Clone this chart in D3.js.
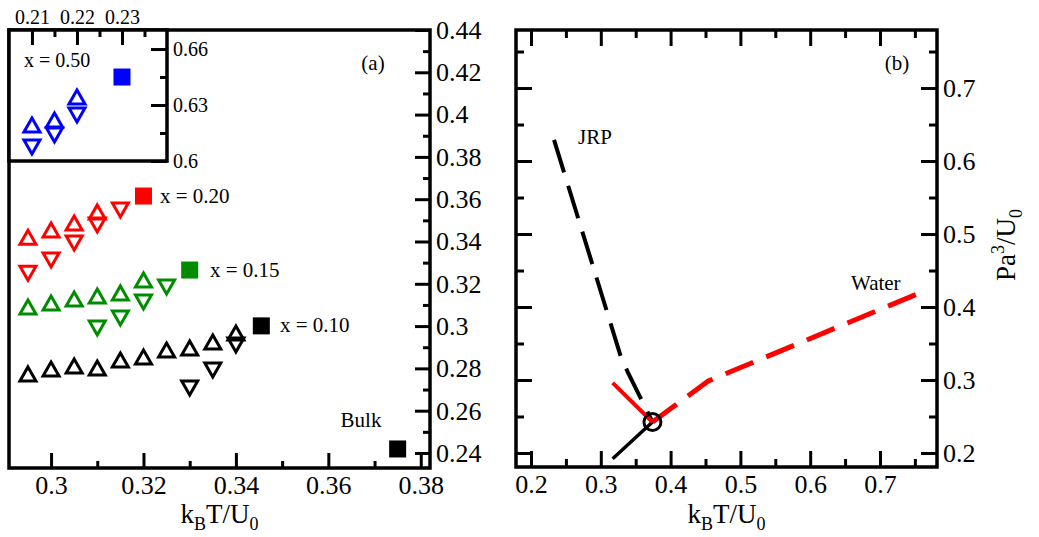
<!DOCTYPE html>
<html>
<head>
<meta charset="utf-8">
<script src="https://cdn.jsdelivr.net/npm/d3@7"></script>
<style>
  body { margin: 0; background: #fff; }
  svg text { font-family: "Liberation Serif", "Times New Roman", Times, "DejaVu Serif", serif !important; fill: #000; }
</style>
</head>
<body>
<svg id="chart" width="1039" height="537" font-family="Liberation Serif, Times New Roman, serif"></svg>
<script>
// ---- panel (a) data: kBT/U0 vs Pa^3/U0 ----
const redUpX = [0.295, 0.300, 0.305, 0.310];
const redUpY = [0.342, 0.3454, 0.3487, 0.354];
const redDownX = [0.295, 0.300, 0.305, 0.310, 0.315];
const redDownY = [0.325, 0.3313, 0.3393, 0.3478, 0.3549];
const redSq = [0.320, 0.3615];

const greenUpX = [0.295, 0.300, 0.305, 0.310, 0.315, 0.320];
const greenUpY = [0.309, 0.3109, 0.3128, 0.3142, 0.3157, 0.3218];
const greenDownX = [0.310, 0.315, 0.320, 0.325];
const greenDownY = [0.2991, 0.3038, 0.3114, 0.3185];
const greenSq = [0.330, 0.3265];

const blackUpX = [0.295, 0.300, 0.305, 0.310, 0.315, 0.320, 0.325, 0.330, 0.335, 0.340];
const blackUpY = [0.2774, 0.2797, 0.2811, 0.2802, 0.2840, 0.2854, 0.2887, 0.2896, 0.2925, 0.2967];
const blackDownX = [0.330, 0.335, 0.340];
const blackDownY = [0.2707, 0.2792, 0.2911];
const blackSq = [0.3455, 0.3001];
const bulkSq = [0.375, 0.2419];

// inset (x = 0.50)
const blueUpX = [0.210, 0.215, 0.220];
const blueUpY = [0.6193, 0.622, 0.6343];
const blueDownX = [0.210, 0.215, 0.220];
const blueDownY = [0.6075, 0.6139, 0.6246];
const blueSq = [0.230, 0.645];

// ---- panel (b) lines ----
const jrpX = [0.233, 0.329, 0.339, 0.374];
const jrpY = [0.629, 0.331, 0.310, 0.2425];
const waterX = [0.374, 0.454, 0.760];
const waterY = [0.2425, 0.2986, 0.4205];
const blackSolidX = [0.317, 0.374];
const blackSolidY = [0.192, 0.2425];
const redSolidX = [0.317, 0.374];
const redSolidY = [0.296, 0.2425];
const triplePoint = [0.374, 0.2425];

// tick values
const aTicksX = [0.30, 0.32, 0.34, 0.36, 0.38];
const aMinorX = [0.31, 0.33, 0.35, 0.37];
const aTicksY = [0.24, 0.26, 0.28, 0.30, 0.32, 0.34, 0.36, 0.38, 0.40, 0.42, 0.44];
const aMinorY = [0.25, 0.27, 0.29, 0.31, 0.33, 0.35, 0.37, 0.39, 0.41, 0.43];
const insTicksX = [0.21, 0.22, 0.23];
const insMinorX = [0.215, 0.225, 0.235];
const insTicksY = [0.60, 0.63, 0.66];
const insMinorY = [0.615, 0.645];
const bTicks = [0.2, 0.3, 0.4, 0.5, 0.6, 0.7];
const bMinor = [0.25, 0.35, 0.45, 0.55, 0.65, 0.75];

const SERIF = "Liberation Serif, Times New Roman, Times, DejaVu Serif, serif";
const svg = d3.select("#chart");

const pA = { left: 9, right: 430, top: 30, bottom: 468 };
const pI = { left: 9, right: 167, top: 30, bottom: 161 };
const pB = { left: 516, right: 937, top: 30, bottom: 467 };

const xA = d3.scaleLinear().domain([0.2909, 0.3820]).range([pA.left, pA.right]);
const yA = d3.scaleLinear().domain([0.2329, 0.44]).range([pA.bottom, pA.top]);
const xI = d3.scaleLinear().domain([0.2049, 0.2400]).range([pI.left, pI.right]);
const yI = d3.scaleLinear().domain([0.6, 0.6702]).range([pI.bottom, pI.top]);
const xB = d3.scaleLinear().domain([0.1785, 0.7817]).range([pB.left, pB.right]);
const yB = d3.scaleLinear().domain([0.1808, 0.7795]).range([pB.bottom, pB.top]);

const fmt = d => String(+d.toFixed(3));

// draws an axis with inward major + minor ticks (labels optional)
function drawAxis(g, axisFn, scale, major, minor, majLen, minLen, fontSize, pad) {
  const ax = axisFn(scale).tickValues(major).tickSize(-majLen).tickPadding(pad)
    .tickFormat(fontSize ? fmt : "");
  g.append("g").call(ax)
    .attr("font-family", SERIF)
    .call(s => s.select(".domain").remove())
    .call(s => s.selectAll("line").attr("stroke", "#000").attr("stroke-width", 3))
    .call(s => s.selectAll("text").style("font-size", fontSize + "px").attr("fill", "#000"));
  if (minor.length) {
    g.append("g").call(axisFn(scale).tickValues(minor).tickSize(-minLen).tickFormat(""))
      .call(s => s.select(".domain").remove())
      .call(s => s.selectAll("line").attr("stroke", "#000").attr("stroke-width", 3));
  }
}

function triPath(up) {
  const w = 8, h = 7;
  return up ? `M0,${-h}L${w},${h}L${-w},${h}Z` : `M0,${h}L${w},${-h}L${-w},${-h}Z`;
}

function drawTris(g, xs, ys, xScale, yScale, color, up) {
  g.selectAll(null).data(d3.zip(xs, ys)).enter().append("path")
    .attr("d", triPath(up))
    .attr("transform", d => `translate(${xScale(d[0])},${yScale(d[1])})`)
    .attr("fill", "none").attr("stroke", color).attr("stroke-width", 3)
    .attr("stroke-linejoin", "miter");
}

function drawSquare(g, p, xScale, yScale, color) {
  const s = 17;
  g.append("rect")
    .attr("x", xScale(p[0]) - s / 2).attr("y", yScale(p[1]) - s / 2)
    .attr("width", s).attr("height", s).attr("fill", color);
}

function label(g, x, y, size, str) {
  return g.append("text").attr("x", x).attr("y", y)
    .attr("font-family", SERIF).style("font-size", size + "px").text(str);
}

function xTitle(g, cx) {
  const t = g.append("text").attr("x", cx).attr("y", 523).attr("font-family", SERIF)
    .attr("text-anchor", "middle").style("font-size", "27px");
  t.append("tspan").text("k");
  t.append("tspan").attr("dy", 7).style("font-size", "18px").text("B");
  t.append("tspan").attr("dy", -7).text("T/U");
  t.append("tspan").attr("dy", 7).style("font-size", "18px").text("0");
}

// ================= panel (a) =================
const gA = svg.append("g");
gA.append("rect").attr("x", pA.left).attr("y", pA.top)
  .attr("width", pA.right - pA.left).attr("height", pA.bottom - pA.top)
  .attr("fill", "none").attr("stroke", "#000").attr("stroke-width", 3.5);

drawAxis(gA.append("g").attr("transform", `translate(0,${pA.bottom})`), d3.axisBottom, xA, aTicksX, aMinorX, 15, 7, 26, 8);
drawAxis(gA.append("g").attr("transform", `translate(${pA.right},0)`), d3.axisRight, yA, aTicksY, aMinorY, 15, 7, 26, 6);

const marksA = gA.append("g");
drawTris(marksA, redUpX, redUpY, xA, yA, "#ff0000", true);
drawTris(marksA, redDownX, redDownY, xA, yA, "#ff0000", false);
drawSquare(marksA, redSq, xA, yA, "#ff0000");
drawTris(marksA, greenUpX, greenUpY, xA, yA, "#008c00", true);
drawTris(marksA, greenDownX, greenDownY, xA, yA, "#008c00", false);
drawSquare(marksA, greenSq, xA, yA, "#008c00");
drawTris(marksA, blackUpX, blackUpY, xA, yA, "#000", true);
drawTris(marksA, blackDownX, blackDownY, xA, yA, "#000", false);
drawSquare(marksA, blackSq, xA, yA, "#000");
drawSquare(marksA, bulkSq, xA, yA, "#000");

label(gA, 160, 203, 21, "x = 0.20");
label(gA, 210, 277, 21, "x = 0.15");
label(gA, 280, 332, 21, "x = 0.10");
label(gA, 361, 427, 21, "Bulk").attr("text-anchor", "middle");
label(gA, 373, 70, 21, "(a)").attr("text-anchor", "middle");
xTitle(gA, (pA.left + pA.right) / 2);

// ---- inset ----
const gI = svg.append("g");
gI.append("rect").attr("x", pI.left).attr("y", pI.top)
  .attr("width", pI.right - pI.left).attr("height", pI.bottom - pI.top)
  .attr("fill", "#fff").attr("stroke", "#000").attr("stroke-width", 3.5);
drawAxis(gI.append("g").attr("transform", `translate(0,${pI.top})`), d3.axisTop, xI, insTicksX, insMinorX, 15, 7, 20, 6);
drawAxis(gI.append("g").attr("transform", `translate(${pI.right},0)`), d3.axisRight, yI, insTicksY, insMinorY, 16, 7, 20, 6);
drawTris(gI, blueUpX, blueUpY, xI, yI, "#0000ff", true);
drawTris(gI, blueDownX, blueDownY, xI, yI, "#0000ff", false);
drawSquare(gI, blueSq, xI, yI, "#0000ff");
label(gI, 24, 67, 20, "x = 0.50");

// ================= panel (b) =================
const gB = svg.append("g");
gB.append("rect").attr("x", pB.left).attr("y", pB.top)
  .attr("width", pB.right - pB.left).attr("height", pB.bottom - pB.top)
  .attr("fill", "none").attr("stroke", "#000").attr("stroke-width", 3.5);

drawAxis(gB.append("g").attr("transform", `translate(0,${pB.bottom})`), d3.axisBottom, xB, bTicks, bMinor, 16, 8, 26, 8);
drawAxis(gB.append("g").attr("transform", `translate(0,${pB.top})`), d3.axisTop, xB, bTicks, bMinor, 16, 8, 0, 0);
drawAxis(gB.append("g").attr("transform", `translate(${pB.right},0)`), d3.axisRight, yB, bTicks, bMinor, 16, 8, 26, 6);
drawAxis(gB.append("g").attr("transform", `translate(${pB.left},0)`), d3.axisLeft, yB, bTicks, bMinor, 16, 8, 0, 0);

const line = (xs, ys) => d3.line().x(d => xB(d[0])).y(d => yB(d[1]))(d3.zip(xs, ys));

gB.append("path").attr("d", line(jrpX, jrpY)).attr("fill", "none")
  .attr("stroke", "#000").attr("stroke-width", 4).attr("stroke-dasharray", "34,14");
gB.append("path").attr("d", line(blackSolidX, blackSolidY)).attr("fill", "none")
  .attr("stroke", "#000").attr("stroke-width", 3.5);
gB.append("path").attr("d", line(redSolidX, redSolidY)).attr("fill", "none")
  .attr("stroke", "#ff0000").attr("stroke-width", 4);
gB.append("path").attr("d", line(waterX, waterY)).attr("fill", "none")
  .attr("stroke", "#ff0000").attr("stroke-width", 5).attr("stroke-dasharray", "30,14");
gB.append("circle").attr("cx", xB(triplePoint[0])).attr("cy", yB(triplePoint[1])).attr("r", 8.5)
  .attr("fill", "none").attr("stroke", "#000").attr("stroke-width", 3);

label(gB, 578, 144, 21, "JRP");
label(gB, 851, 290, 21, "Water");
label(gB, 897, 70, 21, "(b)").attr("text-anchor", "middle");
xTitle(gB, (pB.left + pB.right) / 2);

const ytB = gB.append("text").attr("transform", "translate(1015,245) rotate(-90)")
  .attr("font-family", SERIF).attr("text-anchor", "middle").style("font-size", "27px");
ytB.append("tspan").text("Pa");
ytB.append("tspan").attr("dy", -11).style("font-size", "18px").text("3");
ytB.append("tspan").attr("dy", 11).text("/U");
ytB.append("tspan").attr("dy", 7).style("font-size", "18px").text("0");
</script>
</body>
</html>
